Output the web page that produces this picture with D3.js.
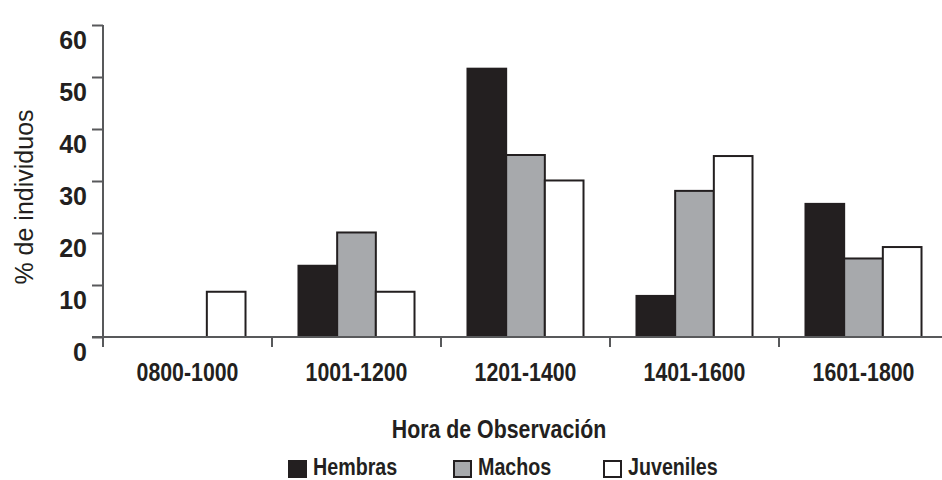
<!DOCTYPE html>
<html>
<head>
<meta charset="utf-8">
<script src="https://cdn.jsdelivr.net/npm/d3@7"></script>
<style>
  html, body { margin: 0; padding: 0; background: #fff; }
  svg { display: block; }
</style>
</head>
<body>
<script>
// ---- Data ----
const categories = ["0800-1000", "1001-1200", "1201-1400", "1401-1600", "1601-1800"];
const series = ["Hembras", "Machos", "Juveniles"];
const hembras = [0, 13.7, 51.6, 7.9, 25.6];
const machos = [0, 20.1, 35.0, 28.1, 15.1];
const juveniles = [8.7, 8.7, 30.1, 34.8, 17.3];
const yTicks = [0, 10, 20, 30, 40, 50, 60];
const yTitle = "% de individuos";
const xTitle = "Hora de Observación";

// ---- Layout / style ----
const W = 942, H = 480;
const colors = { Hembras: "#231f20", Machos: "#a7a9ac", Juveniles: "#ffffff" };
const ink = "#231f20";
const axisColor = "#58595b";
const font = "'Liberation Sans', Arial, sans-serif";
const narrowScale = "scale(0.82,1)";

const valuesBySeries = { Hembras: hembras, Machos: machos, Juveniles: juveniles };

const svg = d3.select("body").append("svg")
  .attr("width", W).attr("height", H);

const x = d3.scaleBand().domain(categories).range([103, 948]).paddingInner(0).paddingOuter(0);
const x1 = d3.scaleBand().domain(series).range([0, x.bandwidth()]).paddingInner(0).paddingOuter(0.685);
const y = d3.scaleLinear().domain([0, 60]).range([337, 25]);

// ---- Bars ----
const barData = [];
series.forEach(s => {
  categories.forEach((c, i) => {
    barData.push({ s, c, v: valuesBySeries[s][i] });
  });
});

svg.append("g").selectAll("rect")
  .data(barData.filter(d => d.v > 0))
  .join("rect")
  .attr("x", d => x(d.c) + x1(d.s))
  .attr("y", d => y(d.v))
  .attr("width", x1.bandwidth())
  .attr("height", d => y(0) - y(d.v))
  .attr("fill", d => colors[d.s])
  .attr("stroke", ink)
  .attr("stroke-width", 2);

// ---- Y axis ----
const yAxis = svg.append("g")
  .attr("transform", "translate(103,0)")
  .call(d3.axisLeft(y).tickValues(yTicks).tickSize(11).tickPadding(5).tickFormat(d3.format("d")));
yAxis.select(".domain").remove();
yAxis.selectAll(".tick line").attr("stroke", axisColor).attr("stroke-width", 2);
yAxis.selectAll(".tick text")
  .attr("transform", "translate(0,15)")
  .attr("fill", ink)
  .style("font-family", font)
  .style("font-weight", "bold")
  .style("font-size", "25px");

svg.append("line")
  .attr("x1", 103).attr("x2", 103)
  .attr("y1", y(60)).attr("y2", y(0) + 10)
  .attr("stroke", axisColor).attr("stroke-width", 2);

// ---- X axis ----
svg.append("line")
  .attr("x1", 92).attr("x2", W)
  .attr("y1", y(0)).attr("y2", y(0))
  .attr("stroke", axisColor).attr("stroke-width", 2);

svg.append("g").selectAll("line")
  .data(categories.slice(1))
  .join("line")
  .attr("x1", d => x(d)).attr("x2", d => x(d))
  .attr("y1", y(0)).attr("y2", y(0) + 10)
  .attr("stroke", axisColor).attr("stroke-width", 2);

const xAxis = svg.append("g")
  .attr("transform", `translate(0,${y(0)})`)
  .call(d3.axisBottom(x).tickSize(0).tickPadding(26));
xAxis.select(".domain").remove();
xAxis.selectAll(".tick text")
  .attr("transform", narrowScale)
  .attr("fill", ink)
  .style("font-family", font)
  .style("font-weight", "bold")
  .style("font-size", "26px");

// ---- Titles ----
svg.append("text")
  .attr("transform", "translate(33,197) rotate(-90)")
  .attr("text-anchor", "middle")
  .attr("fill", ink)
  .style("font-family", font)
  .style("font-size", "25px")
  .text(yTitle);

svg.append("g")
  .attr("transform", "translate(499,438)")
  .append("text")
  .attr("transform", narrowScale)
  .attr("text-anchor", "middle")
  .attr("fill", ink)
  .style("font-family", font)
  .style("font-weight", "bold")
  .style("font-size", "26px")
  .text(xTitle);

// ---- Legend ----
const legendX = [288, 453, 603];
const lg = svg.append("g").selectAll("g")
  .data(series)
  .join("g")
  .attr("transform", (d, i) => `translate(${legendX[i]},460)`);
lg.append("rect")
  .attr("x", 1).attr("y", 1)
  .attr("width", 17).attr("height", 16)
  .attr("fill", d => colors[d])
  .attr("stroke", ink)
  .attr("stroke-width", 2);
lg.append("text")
  .attr("transform", "translate(25,15) " + narrowScale)
  .attr("fill", ink)
  .style("font-family", font)
  .style("font-weight", "bold")
  .style("font-size", "24px")
  .text(d => d);
</script>
</body>
</html>
